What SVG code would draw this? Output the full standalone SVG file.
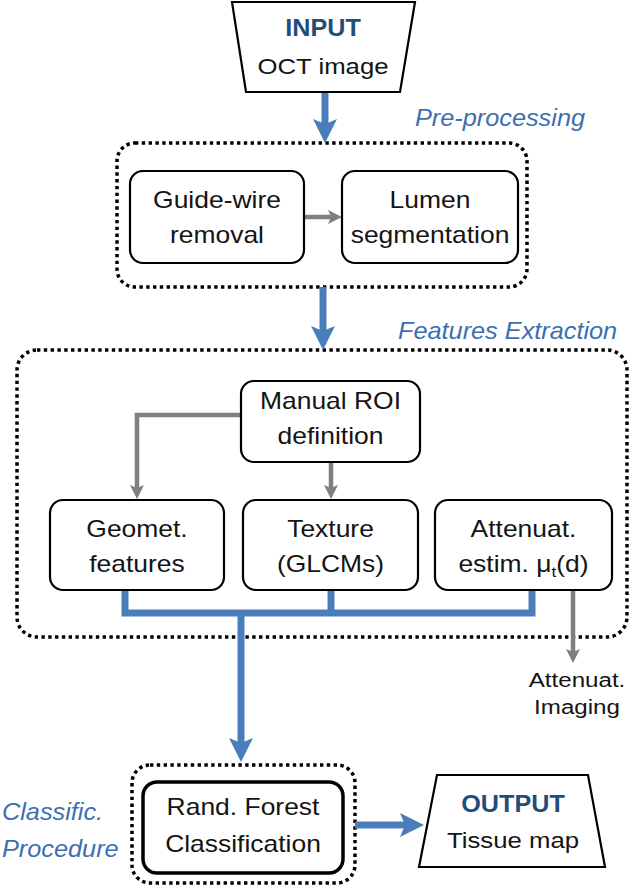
<svg xmlns="http://www.w3.org/2000/svg" width="630" height="887" viewBox="0 0 630 887">
<defs>
<style>
.t{font-family:"Liberation Sans",Arial,sans-serif;font-size:23px;fill:#141414;text-anchor:middle}
.h{font-family:"Liberation Sans",Arial,sans-serif;font-size:24px;font-weight:bold;fill:#1f4e79;text-anchor:middle}
.it{font-family:"Liberation Sans",Arial,sans-serif;font-size:23px;font-style:italic;fill:#3d6fb0;text-anchor:start}
.box{fill:#fff;stroke:#000;stroke-width:2.2}
.dot{fill:none;stroke:#000;stroke-width:3.5;stroke-dasharray:3.4 3.4}
.blue{fill:none;stroke:#4a7ebb;stroke-width:7}
.gray{fill:none;stroke:#7f7f7f;stroke-width:4.5}
</style>
<marker id="ab" viewBox="0 0 24 24" refX="6" refY="12" markerWidth="24" markerHeight="24" markerUnits="userSpaceOnUse" orient="auto">
<path d="M0,0 L24,12 L0,24 L5,12 z" fill="#4a7ebb"/>
</marker>
<marker id="ag" viewBox="0 0 14 14" refX="3.5" refY="7" markerWidth="14" markerHeight="14" markerUnits="userSpaceOnUse" orient="auto">
<path d="M0,0 L14,7 L0,14 L3,7 z" fill="#7f7f7f"/>
</marker>
</defs>
<rect width="630" height="887" fill="#fff"/>

<g id="preprocessing-group">
<rect class="dot" x="117" y="143" width="410" height="144" rx="18"/>
<text class="it" transform="translate(415 0) scale(1.1 1)" x="0" y="126">Pre-processing</text>
</g>
<g id="features-group">
<rect class="dot" x="17" y="350" width="610" height="287" rx="20"/>
<text class="it" transform="translate(398 0) scale(1.1 1)" x="0" y="339">Features Extraction</text>
</g>
<g id="classific-group">
<rect class="dot" x="132" y="765" width="223" height="118" rx="18"/>
<text class="it" transform="translate(2 0) scale(1.1 1)" x="0" y="820">Classific.</text>
<text class="it" transform="translate(2 0) scale(1.1 1)" x="0" y="857">Procedure</text>
</g>

<g id="connectors">
<path class="blue" d="M325,92 V125" marker-end="url(#ab)"/>
<path class="gray" d="M304,217 H331.5" marker-end="url(#ag)"/>
<path class="blue" d="M323,287 V332" marker-end="url(#ab)"/>
<path class="gray" d="M241,415 H137 V488.5" marker-end="url(#ag)"/>
<path class="gray" d="M331,462 V488.5" marker-end="url(#ag)"/>
<path class="blue" d="M125,590 V613 H532 V590"/>
<path class="blue" d="M331,590 V613"/>
<path class="blue" d="M241,613 V744" marker-end="url(#ab)"/>
<path class="gray" d="M573,590 V652.5" marker-end="url(#ag)"/>
<path class="blue" d="M355,825 H406" marker-end="url(#ab)"/>
</g>

<g id="input">
<polygon class="box" points="232,2 415,2 400,92 246,92"/>
<text class="h" transform="translate(323 0) scale(1.05 1)" x="0" y="36">INPUT</text>
<text class="t" transform="translate(323 0) scale(1.12 1)" x="0" y="74">OCT image</text>
</g>
<g id="guide-wire">
<rect class="box" x="130" y="171" width="174" height="92" rx="13"/>
<text class="t" transform="translate(217 0) scale(1.15 1)" x="0" y="208">Guide-wire</text>
<text class="t" transform="translate(217 0) scale(1.15 1)" x="0" y="243">removal</text>
</g>
<g id="lumen">
<rect class="box" x="342" y="171" width="176" height="92" rx="13"/>
<text class="t" transform="translate(430 0) scale(1.15 1)" x="0" y="208">Lumen</text>
<text class="t" transform="translate(430 0) scale(1.15 1)" x="0" y="243">segmentation</text>
</g>
<g id="manual-roi">
<rect class="box" x="241" y="381" width="179" height="81" rx="13"/>
<text class="t" transform="translate(330.5 0) scale(1.15 1)" x="0" y="409">Manual ROI</text>
<text class="t" transform="translate(330.5 0) scale(1.15 1)" x="0" y="444">definition</text>
</g>
<g id="geomet">
<rect class="box" x="50" y="500" width="174" height="90" rx="13"/>
<text class="t" transform="translate(137 0) scale(1.15 1)" x="0" y="537">Geomet.</text>
<text class="t" transform="translate(137 0) scale(1.15 1)" x="0" y="572">features</text>
</g>
<g id="texture">
<rect class="box" x="243" y="500" width="175" height="90" rx="13"/>
<text class="t" transform="translate(330.5 0) scale(1.15 1)" x="0" y="537">Texture</text>
<text class="t" transform="translate(330.5 0) scale(1.15 1)" x="0" y="572">(GLCMs)</text>
</g>
<g id="attenuat">
<rect class="box" x="435" y="500" width="177" height="90" rx="13"/>
<text class="t" transform="translate(523.5 0) scale(1.15 1)" x="0" y="537">Attenuat.</text>
<text class="t" transform="translate(523.5 0) scale(1.15 1)" x="0" y="572">estim. μ<tspan font-size="15" dy="5">t</tspan><tspan dy="-5">(d)</tspan></text>
</g>
<g id="attenuat-imaging">
<text class="t" style="font-size:21px" transform="translate(577 0) scale(1.15 1)" x="0" y="687">Attenuat.</text>
<text class="t" style="font-size:21px" transform="translate(577 0) scale(1.15 1)" x="0" y="714">Imaging</text>
</g>
<g id="random-forest">
<rect class="box" style="stroke-width:3.5" x="143" y="782" width="200" height="91" rx="14"/>
<text class="t" transform="translate(243 0) scale(1.15 1)" x="0" y="815">Rand. Forest</text>
<text class="t" transform="translate(243 0) scale(1.15 1)" x="0" y="852">Classification</text>
</g>
<g id="output">
<polygon class="box" points="437,775 588,775 605,867 419,867"/>
<text class="h" transform="translate(513 0) scale(1.05 1)" x="0" y="812">OUTPUT</text>
<text class="t" transform="translate(513 0) scale(1.12 1)" x="0" y="848">Tissue map</text>
</g>
</svg>
